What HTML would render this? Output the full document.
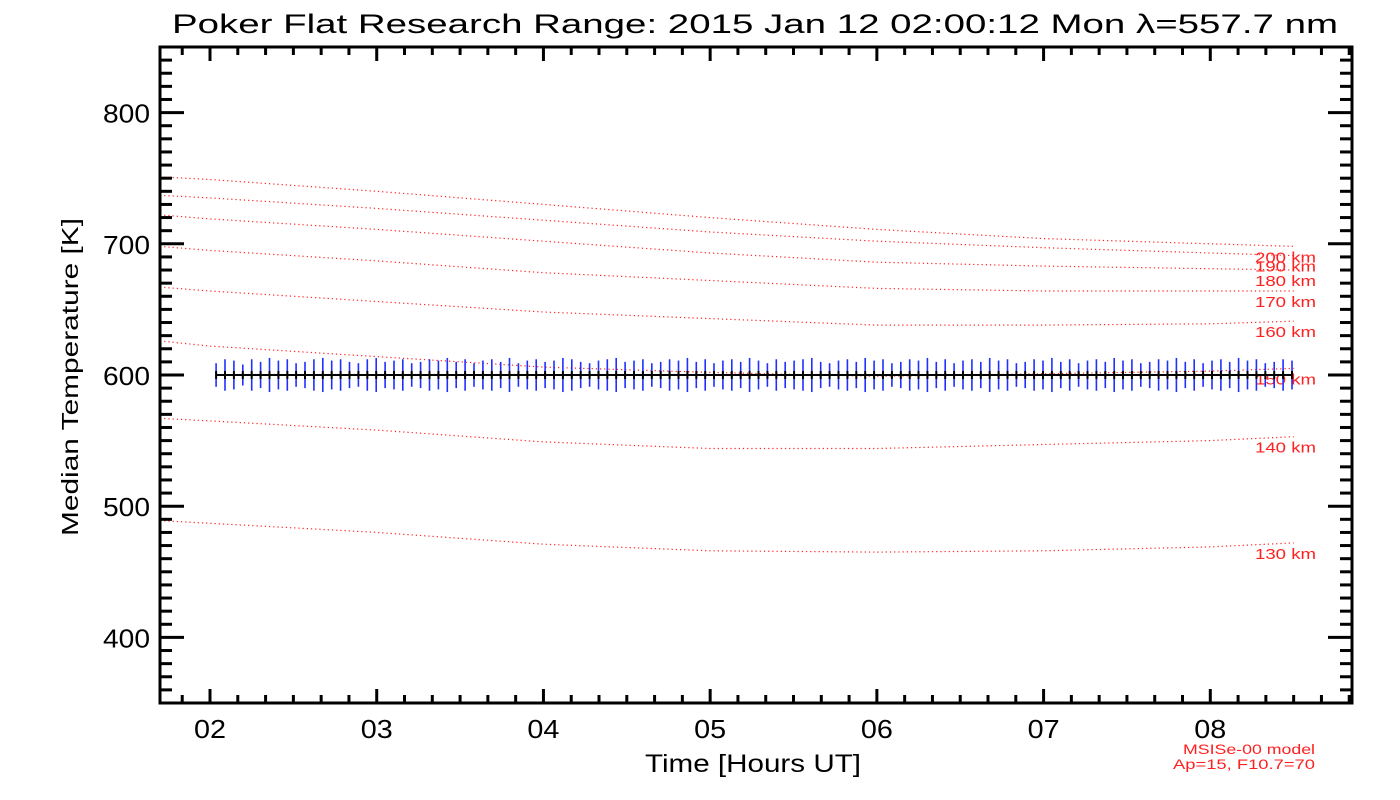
<!DOCTYPE html>
<html><head><meta charset="utf-8"><style>
html,body{margin:0;padding:0;background:#fff;}
svg{display:block;font-family:"Liberation Sans","DejaVu Sans",sans-serif;}
</style></head><body>
<svg id="chart" width="1400" height="800" viewBox="0 0 1400 800" xmlns="http://www.w3.org/2000/svg">
<rect width="1400" height="800" fill="#fff"/>
<text x="755" y="33" font-size="27" text-anchor="middle" textLength="1166" lengthAdjust="spacingAndGlyphs">Poker Flat Research Range: 2015 Jan 12 02:00:12 Mon λ=557.7 nm</text>
<g id="models"></g>
<g id="data"></g>
<g id="axes"></g>
<text x="753" y="772" font-size="25" text-anchor="middle" textLength="216" lengthAdjust="spacingAndGlyphs">Time [Hours UT]</text>
<text transform="translate(78,377) rotate(-90)" font-size="23" text-anchor="middle" textLength="318" lengthAdjust="spacingAndGlyphs">Median Temperature [K]</text>
<text x="1315" y="754" font-size="14" fill="#ff2020" text-anchor="end" textLength="132" lengthAdjust="spacingAndGlyphs">MSISe-00 model</text>
<text x="1315" y="769" font-size="14" fill="#ff2020" text-anchor="end" textLength="142" lengthAdjust="spacingAndGlyphs">Ap=15, F10.7=70</text>
</svg>
<script>
const xTicks = [2,3,4,5,6,7,8];
const xTickLabels = ["02","03","04","05","06","07","08"];
const yTicks = [400,500,600,700,800];
const modelHours = [1.7,2,3,4,5,6,7,8,8.5];
const modelLabels = ["130 km","140 km","150 km","160 km","170 km","180 km","190 km","200 km"];
const model130 = [489,487,480,471,466,465,466,469,472];
const model140 = [567,565,558,549,544,544,547,550,553];
const model150 = [626,622,614,606,602,599,601,603,605];
const model160 = [667,664,656,648,643,638,638,639,641];
const model170 = [698,695,687,678,672,666,664,664,664];
const model180 = [722,719,711,702,693,686,683,681,680];
const model190 = [737,735,727,718,709,702,697,693,691];
const model200 = [751,749,740,730,720,711,704,700,698];
const obsMinutes = [2.2,5.4,8.6,11.8,15.0,18.2,21.4,24.6,27.8,31.0,34.2,37.4,40.6,43.8,47.0,50.2,53.4,56.6,59.8,63.0,66.2,69.4,72.6,75.8,79.0,82.2,85.4,88.6,91.8,95.0,98.2,101.4,104.6,107.8,111.0,114.2,117.4,120.6,123.8,127.0,130.2,133.4,136.6,139.8,143.0,146.2,149.4,152.6,155.8,159.0,162.2,165.4,168.6,171.8,175.0,178.2,181.4,184.6,187.8,191.0,194.2,197.4,200.6,203.8,207.0,210.2,213.4,216.6,219.8,223.0,226.2,229.4,232.6,235.8,239.0,242.2,245.4,248.6,251.8,255.0,258.2,261.4,264.6,267.8,271.0,274.2,277.4,280.6,283.8,287.0,290.2,293.4,296.6,299.8,303.0,306.2,309.4,312.6,315.8,319.0,322.2,325.4,328.6,331.8,335.0,338.2,341.4,344.6,347.8,351.0,354.2,357.4,360.6,363.8,367.0,370.2,373.4,376.6,379.8,383.0,386.2,389.4];
const obsTemps = obsMinutes.map(()=>600);
const obsErrors = [9,12,11,8,12,10,13,11,12,9,10,12,13,11,12,10,9,12,13,10,11,12,9,10,12,11,13,10,12,9,11,12,10,13,9,11,12,10,11,13,12,10,9,11,12,13,10,11,12,9,10,12,11,13,10,12,9,11,12,10,13,11,9,12,10,11,12,13,10,9,11,12,10,13,11,12,9,10,12,11,13,10,12,9,11,12,10,13,11,12,9,10,12,11,13,10,12,9,11,12,10,13,11,12,9,10,12,11,13,10,12,9,11,12,10,13,11,12,9,10,12,11];

const NS="http://www.w3.org/2000/svg";
const L=160,R=1352,T=47,B=703;
const X0=1.7,X1=8.85,Y0=350,Y1=850;
const sx=h=>L+(h-X0)/(X1-X0)*(R-L);
const sy=v=>B-(v-Y0)/(Y1-Y0)*(B-T);
function mk(tag,attrs,parent){const e=document.createElementNS(NS,tag);for(const k in attrs)e.setAttribute(k,attrs[k]);parent.appendChild(e);return e;}

const mg=document.getElementById('models');
const models=[model130,model140,model150,model160,model170,model180,model190,model200];
models.forEach((m,i)=>{
  const pts=m.map((v,j)=>sx(modelHours[j]).toFixed(1)+","+sy(v).toFixed(1)).join(" ");
  const pl=mk('polyline',{points:pts,fill:'none',stroke:'#ff2020','stroke-width':1.2,'stroke-dasharray':'1.2,3'},mg);
  
  
  const t=mk('text',{x:1255,y:(sy(m[m.length-1])+16).toFixed(1),'font-size':15,fill:'#ff2020',textLength:61,lengthAdjust:'spacingAndGlyphs'},mg);
  t.textContent=modelLabels[i];
  
  
});

const dg=document.getElementById('data');
const hrs=obsMinutes.map(m=>2+m/60);
obsErrors.forEach((e,i)=>{
  const x=sx(hrs[i]).toFixed(1);
  const b=mk('line',{x1:x,x2:x,y1:sy(obsTemps[i]-e),y2:sy(obsTemps[i]+e),stroke:'#2030ff','stroke-width':1.6},dg);
  
  
});
const ln=mk('polyline',{points:hrs.map((h,i)=>sx(h).toFixed(1)+","+sy(obsTemps[i]).toFixed(1)).join(" "),fill:'none',stroke:'#000','stroke-width':2},dg);


hrs.forEach((h,i)=>{
  const x=sx(h).toFixed(1),y=sy(obsTemps[i]);
  const p=mk('line',{x1:x,x2:x,y1:y-4,y2:y+4,stroke:'#000','stroke-width':2},dg);
  
  
});

const ag=document.getElementById('axes');
const fr=mk('rect',{x:L,y:T,width:R-L,height:B-T,fill:'none',stroke:'#000','stroke-width':3},ag);


for(let v=Y0;v<=Y1;v+=10){
  const major=v%100===0, len=major?24:12, y=sy(v);
  mk('line',{x1:L,x2:L+len,y1:y,y2:y,stroke:'#000','stroke-width':3},ag);
  mk('line',{x1:R-len,x2:R,y1:y,y2:y,stroke:'#000','stroke-width':3},ag);
}
yTicks.forEach(v=>{
  const t=mk('text',{x:150,y:sy(v)+10,'font-size':26,'text-anchor':'end',textLength:47,lengthAdjust:'spacingAndGlyphs'},ag);
  t.textContent=String(v);
  
  
});
for(let m=Math.ceil(X0*6);m<=X1*6;m++){
  const h=m/6, major=m%6===0, len=major?14:8, x=sx(h);
  mk('line',{x1:x,x2:x,y1:B-len,y2:B,stroke:'#000','stroke-width':3},ag);
  mk('line',{x1:x,x2:x,y1:T,y2:T+len,stroke:'#000','stroke-width':3},ag);
}
xTicks.forEach((h,i)=>{
  const t=mk('text',{x:sx(h),y:738,'font-size':26,'text-anchor':'middle',textLength:32,lengthAdjust:'spacingAndGlyphs'},ag);
  t.textContent=xTickLabels[i];
  
  
});
</script>
</body></html>
